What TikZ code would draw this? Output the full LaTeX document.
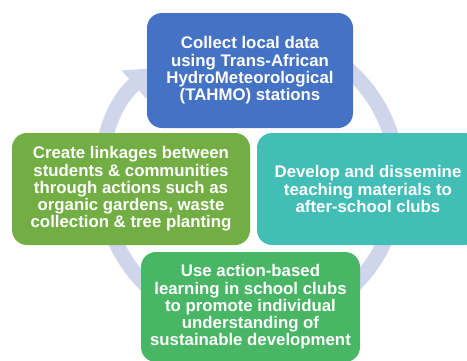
\documentclass[tikz,border=0pt]{standalone}
\usepackage{fontspec}
\setmainfont{Liberation Sans}
\usetikzlibrary{arrows.meta}
\definecolor{collectblue}{HTML}{4472C4}
\definecolor{developteal}{HTML}{42BEB7}
\definecolor{linkolive}{HTML}{72AE44}
\definecolor{learngreen}{HTML}{48B665}
\definecolor{ringgrey}{HTML}{CFD5EA}
\begin{document}
\begin{tikzpicture}[x=1pt,y=-1pt,
  card/.style={rounded corners=15pt, text=white, align=center, inner sep=0pt,
    font=\bfseries\fontsize{16.8}{17.3}\selectfont}]
\useasboundingbox (0,0) rectangle (467,360);
\clip (0,0) rectangle (467,360);
% cycle ring behind the boxes
\coordinate (hub) at (250,180);
\draw[ringgrey, line width=15pt, -{Triangle[width=36pt,length=25pt]}]
  ([shift={(-118:148)}]hub) arc[start angle=-118, end angle=229, radius=148];
\node[card, fill=collectblue, minimum width=206pt, minimum height=115pt] (collect) at (250,70.5)
  {Collect local data\\using Trans-African\\HydroMeteorological\\(TAHMO) stations};
\node[card, fill=developteal, minimum width=222pt, minimum height=112pt] (develop) at (368,189)
  {Develop and dissemine\\teaching materials to\\after-school clubs};
\node[card, fill=linkolive, minimum width=238pt, minimum height=112pt] (link) at (131,189)
  {Create linkages between\\students \& communities\\through actions such as\\organic gardens, waste\\collection \& tree planting};
\node[card, fill=learngreen, minimum width=219pt, minimum height=110pt] (learn) at (250.5,307)
  {Use action-based\\learning in school clubs\\to promote individual\\understanding of\\sustainable development};
\end{tikzpicture}
\end{document}
